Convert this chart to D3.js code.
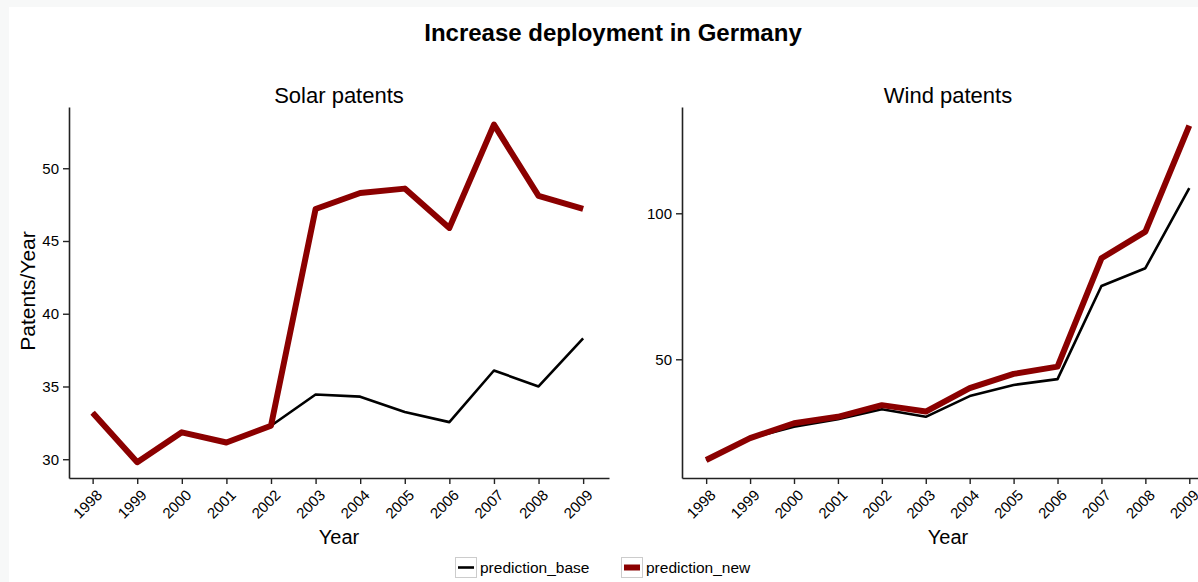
<!DOCTYPE html>
<html><head><meta charset="utf-8">
<script src="https://cdn.jsdelivr.net/npm/d3@7"></script>
<style>
body{margin:0;padding:0;background:#fff;}
svg text{font-family:"Liberation Sans",Arial,Helvetica,sans-serif;fill:#000;}
</style></head>
<body><svg id="chart" width="1198" height="582"></svg>
<script>
const years = [1998,1999,2000,2001,2002,2003,2004,2005,2006,2007,2008,2009];
const solarBase = [33.2,29.8,31.85,31.15,32.3,34.45,34.3,33.25,32.55,36.1,35.0,38.3];
const solarNew  = [33.2,29.8,31.85,31.15,32.3,47.2,48.3,48.6,45.9,53.0,48.1,47.2];
const windBase  = [15.5,23.0,26.9,29.5,32.9,30.3,37.4,41.2,43.2,75.1,81.2,108.6];
const windNew   = [15.5,23.0,28.1,30.3,34.3,32.1,40.1,45.0,47.5,84.6,93.7,130.0];
const solarTicks = [30,35,40,45,50];
const windTicks = [50,100];
const seriesNames = ["prediction_base","prediction_new"];
const seriesColors = ["#000000","#8b0000"];

const svg = d3.select("#chart");
svg.append("rect").attr("width",1198).attr("height",582).attr("fill","#f7f8f8");
svg.append("rect").attr("x",9).attr("y",7).attr("width",1189).attr("height",575).attr("fill","#fff");

svg.append("text").attr("x",613).attr("y",41).attr("text-anchor","middle")
  .style("font-size","24px").style("font-weight","bold").text("Increase deployment in Germany");

const panels = [
  {title:"Solar patents", base:solarBase, nw:solarNew, ticks:solarTicks,
   xDom:[1997.47,2009.58], xRange:[69,609], yDom:[28.71,54.21], cx:339, ylab:true},
  {title:"Wind patents", base:windBase, nw:windNew, ticks:windTicks,
   xDom:[1997.45,2009.54], xRange:[682,1213], yDom:[9.35,136.4], cx:948, ylab:false}
];

panels.forEach(p=>{
  const x = d3.scaleLinear().domain(p.xDom).range(p.xRange);
  const y = d3.scaleLinear().domain(p.yDom).range([478,107]);
  const g = svg.append("g");
  const yAx = g.append("g").attr("transform",`translate(${p.xRange[0]},0)`)
    .call(d3.axisLeft(y).tickValues(p.ticks).tickSize(6).tickSizeOuter(0).tickPadding(4).tickFormat(d3.format("d")));
  const xAx = g.append("g").attr("transform","translate(0,478)")
    .call(d3.axisBottom(x).tickValues(years).tickSize(6).tickSizeOuter(0).tickFormat(d3.format("d")));
  [yAx,xAx].forEach(a=>{
    a.select(".domain").attr("stroke","#222").attr("stroke-width",1.6);
    a.selectAll(".tick line").attr("stroke","#222").attr("stroke-width",1.4);
  });
  yAx.selectAll(".tick text").style("font-size","15px");
  xAx.selectAll(".tick text").style("font-size","15px")
    .attr("text-anchor","end").attr("dy",null).attr("y",null)
    .attr("transform","translate(10,18) rotate(-45)");
  const line = d3.line().x((d,i)=>x(years[i])).y(d=>y(d));
  g.append("path").datum(p.base).attr("d",line).attr("fill","none")
    .attr("stroke",seriesColors[0]).attr("stroke-width",2.6).attr("stroke-linejoin","round");
  g.append("path").datum(p.nw).attr("d",line).attr("fill","none")
    .attr("stroke",seriesColors[1]).attr("stroke-width",6).attr("stroke-linejoin","round");
  g.append("text").attr("x",p.cx).attr("y",103).attr("text-anchor","middle").style("font-size","22px").text(p.title);
  g.append("text").attr("x",p.cx).attr("y",544).attr("text-anchor","middle").style("font-size","20px").text("Year");
  if(p.ylab){
    g.append("text").attr("transform","translate(35,291) rotate(-90)").attr("text-anchor","middle")
      .style("font-size","21px").text("Patents/Year");
  }
});

// legend
const legX = [455,621];
seriesNames.forEach((n,i)=>{
  const lg = svg.append("g").attr("transform",`translate(${legX[i]},557)`);
  lg.append("rect").attr("x",0.5).attr("y",0.5).attr("width",21).attr("height",20)
    .attr("fill","#fff").attr("stroke","#ccc").attr("stroke-width",1);
  lg.append("line").attr("x1",3).attr("x2",19).attr("y1",10.5).attr("y2",10.5)
    .attr("stroke",seriesColors[i]).attr("stroke-width",i===0?2.6:6);
  lg.append("text").attr("x",25).attr("y",16).style("font-size","15.5px").text(n);
});
</script></body></html>
